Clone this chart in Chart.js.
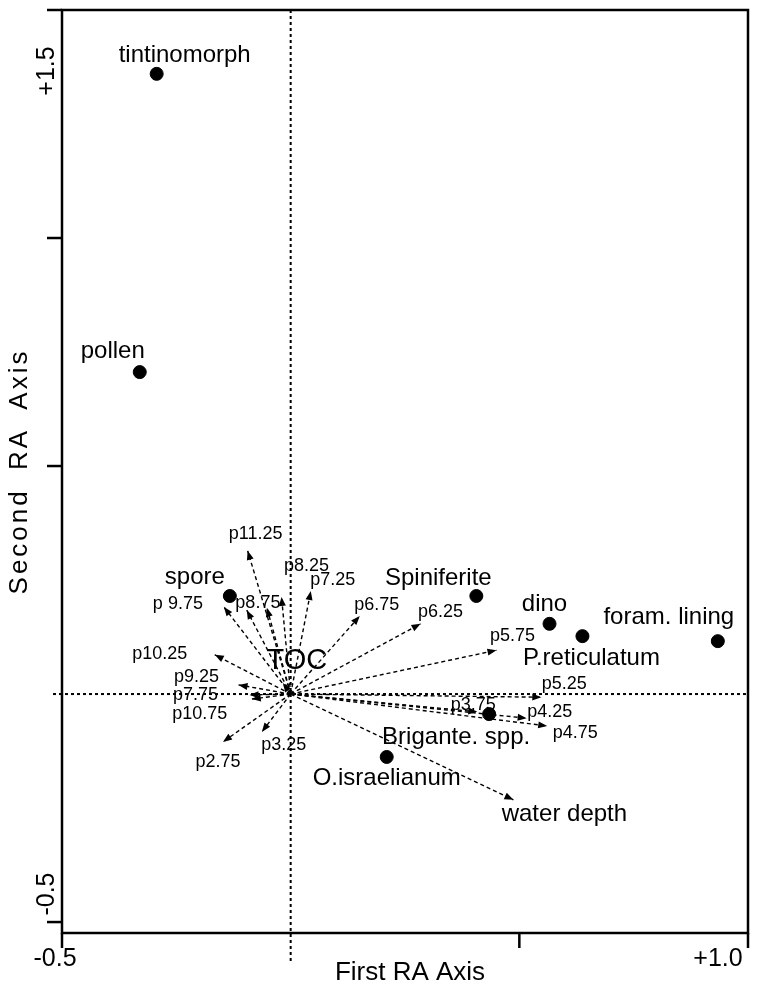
<!DOCTYPE html>
<html lang="en">
<head>
<meta charset="UTF-8">
<title>RA biplot</title>
<script src="https://cdn.jsdelivr.net/npm/chart.js"></script>
<style>
  body { margin: 0; background: #fff; }
  canvas { display: block; }
</style>
</head>
<body>
<canvas id="myChart" width="758" height="985"></canvas>
<script>
// taxa scores
const taxa = ['tintinomorph', 'pollen', 'spore', 'Spiniferite', 'dino', 'P.reticulatum', 'foram. lining', 'Brigante. spp.', 'O.israelianum'];
const taxaX = [-0.293, -0.330, -0.133, 0.406, 0.566, 0.638, 0.934, 0.434, 0.210];
const taxaY = [1.360, 0.706, 0.215, 0.215, 0.154, 0.127, 0.116, -0.044, -0.138];

// environmental arrows (from origin to tip)
const vars = ['p11.25', 'p8.25', 'p7.25', 'p8.75', '', 'p 9.75', 'p10.25', 'p9.25', 'p7.75', 'p10.75', 'p2.75', 'p3.25', 'TOC',
              'p6.75', 'p6.25', 'p5.75', 'p5.25', 'p3.75', 'p4.25', 'p4.75', 'water depth'];
const varX = [-0.094, -0.020, 0.044, -0.052, -0.096, -0.146, -0.166, -0.114, -0.090, -0.085, -0.148, -0.063, -0.017,
              0.151, 0.284, 0.450, 0.548, 0.408, 0.516, 0.561, 0.487];
const varY = [0.314, 0.213, 0.226, 0.189, 0.184, 0.191, 0.086, 0.020, -0.002, -0.011, -0.105, -0.083, 0.024,
              0.171, 0.154, 0.096, -0.007, -0.039, -0.053, -0.070, -0.232];

// axes
const xTicks = [-0.5, 0.5, 1.0];
const xTickLabels = ['-0.5', '', '+1.0'];
const yTicks = [-0.5, 0.5, 1.0, 1.5];
const yTickLabels = ['-0.5', '', '', '+1.5'];
const xTitle = 'First RA Axis';
const yTitle = 'Second RA Axis';

// label offsets in pixels (text centre relative to mark)
const taxaOffset = {
    'tintinomorph': [28, -18], 'pollen': [-27, -21], 'spore': [-35, -19], 'Spiniferite': [-38, -18],
    'dino': [-5, -19], 'P.reticulatum': [9, 22], 'foram. lining': [-49, -24],
    'Brigante. spp.': [-33, 23], 'O.israelianum': [0, 21]
};
const varOffset = {
    'p11.25': [8, -17], 'p8.25': [25, -31], 'p7.25': [22, -11], 'p8.75': [-9, -5], 'p 9.75': [-46, -3],
    'p10.25': [-55, -1], 'p9.25': [-42, -8], 'p7.75': [-54, 0], 'p10.75': [-52, 15], 'p2.75': [-5, 20],
    'p3.25': [22, 13], 'TOC': [14, -22], 'p6.75': [17, -11], 'p6.25': [20, -12], 'p5.75': [16, -14],
    'p5.25': [23, -13], 'p3.75': [-4, -7], 'p4.25': [23, -6], 'p4.75': [28, 7], 'water depth': [51, 15]
};

const FONT = '"Liberation Sans", Arial, sans-serif';

const datasets = [{
    label: 'taxa',
    data: taxa.map((t, i) => ({ x: taxaX[i], y: taxaY[i] })),
    pointRadius: 6.5,
    pointBackgroundColor: '#000',
    pointBorderColor: '#000',
    showLine: false
}];
vars.forEach((v, i) => {
    datasets.push({
        label: v || 'arrow',
        data: [{ x: 0, y: 0 }, { x: varX[i], y: varY[i] }],
        showLine: true,
        borderColor: '#000',
        borderWidth: 1.4,
        borderDash: [4, 3],
        pointRadius: 0
    });
});

function line(ctx, x1, y1, x2, y2) {
    ctx.beginPath();
    ctx.moveTo(x1, y1);
    ctx.lineTo(x2, y2);
    ctx.stroke();
}

const biplot = {
    id: 'biplot',
    beforeDatasetsDraw(chart) {
        const { ctx, chartArea: a } = chart;
        const x = chart.scales.x, y = chart.scales.y;
        const x0 = x.getPixelForValue(0), y0 = y.getPixelForValue(0);
        ctx.save();
        ctx.strokeStyle = '#000';
        ctx.lineWidth = 2;
        ctx.setLineDash([3, 3]);
        line(ctx, x0, a.top, x0, a.bottom + 28);
        line(ctx, a.left - 9, y0, a.right, y0);
        ctx.restore();
    },
    afterDatasetsDraw(chart) {
        const { ctx, chartArea: a } = chart;
        const x = chart.scales.x, y = chart.scales.y;
        const ox = x.getPixelForValue(0), oy = y.getPixelForValue(0);
        ctx.save();
        ctx.fillStyle = '#000';
        ctx.strokeStyle = '#000';

        // arrow heads
        vars.forEach((v, i) => {
            const tx = x.getPixelForValue(varX[i]), ty = y.getPixelForValue(varY[i]);
            const ang = Math.atan2(ty - oy, tx - ox);
            ctx.save();
            ctx.translate(tx, ty);
            ctx.rotate(ang);
            ctx.beginPath();
            ctx.moveTo(0, 0);
            ctx.lineTo(-9, -3.5);
            ctx.lineTo(-9, 3.5);
            ctx.closePath();
            ctx.fill();
            ctx.restore();
        });

        // arrow labels
        ctx.textAlign = 'center';
        ctx.textBaseline = 'middle';
        vars.forEach((v, i) => {
            if (!v) return;
            const off = varOffset[v] || [0, 0];
            const big = v === 'TOC' || v === 'water depth';
            ctx.font = (v === 'TOC' ? '29px ' : big ? '24px ' : '18px ') + FONT;
            ctx.fillText(v, x.getPixelForValue(varX[i]) + off[0], y.getPixelForValue(varY[i]) + off[1]);
        });

        // taxa labels
        ctx.font = '24px ' + FONT;
        taxa.forEach((t, i) => {
            const off = taxaOffset[t];
            ctx.fillText(t, x.getPixelForValue(taxaX[i]) + off[0], y.getPixelForValue(taxaY[i]) + off[1]);
        });

        // frame
        ctx.lineWidth = 2.5;
        ctx.strokeRect(a.left, a.top, a.right - a.left, a.bottom - a.top);

        // ticks
        xTicks.forEach((v, i) => {
            const px = x.getPixelForValue(v);
            line(ctx, px, a.bottom, px, a.bottom + 15);
        });
        yTicks.forEach(v => {
            const py = y.getPixelForValue(v);
            line(ctx, a.left - 15, py, a.left, py);
        });

        // tick labels
        ctx.font = '25px ' + FONT;
        const xDx = [-7, 0, -30];
        xTicks.forEach((v, i) => {
            if (!xTickLabels[i]) return;
            ctx.fillText(xTickLabels[i], x.getPixelForValue(v) + xDx[i], a.bottom + 26);
        });
        const yDy = [-28, 0, 0, 61];
        yTicks.forEach((v, i) => {
            if (!yTickLabels[i]) return;
            ctx.save();
            ctx.translate(a.left - 15, y.getPixelForValue(v) + yDy[i]);
            ctx.rotate(-Math.PI / 2);
            ctx.fillText(yTickLabels[i], 0, 0);
            ctx.restore();
        });

        // axis titles
        ctx.font = '26px ' + FONT;
        ctx.fillText(xTitle, (a.left + a.right) / 2 + 5, a.bottom + 40);
        ctx.save();
        ctx.translate(20, (a.top + a.bottom) / 2);
        ctx.rotate(-Math.PI / 2);
        ctx.letterSpacing = '3px';
        ctx.wordSpacing = '8px';
        ctx.fillText(yTitle, 0, 0);
        ctx.restore();

        ctx.restore();
    }
};

const myChart = new Chart(document.getElementById('myChart'), {
    type: 'scatter',
    data: { datasets: datasets },
    options: {
        responsive: false,
        animation: false,
        layout: { padding: { left: 62, right: 10, top: 10, bottom: 52 } },
        plugins: { legend: { display: false }, tooltip: { enabled: false } },
        scales: {
            x: { type: 'linear', min: -0.5, max: 1.0, display: false },
            y: { type: 'linear', min: -0.524, max: 1.5, display: false }
        }
    },
    plugins: [biplot]
});
</script>
</body>
</html>
